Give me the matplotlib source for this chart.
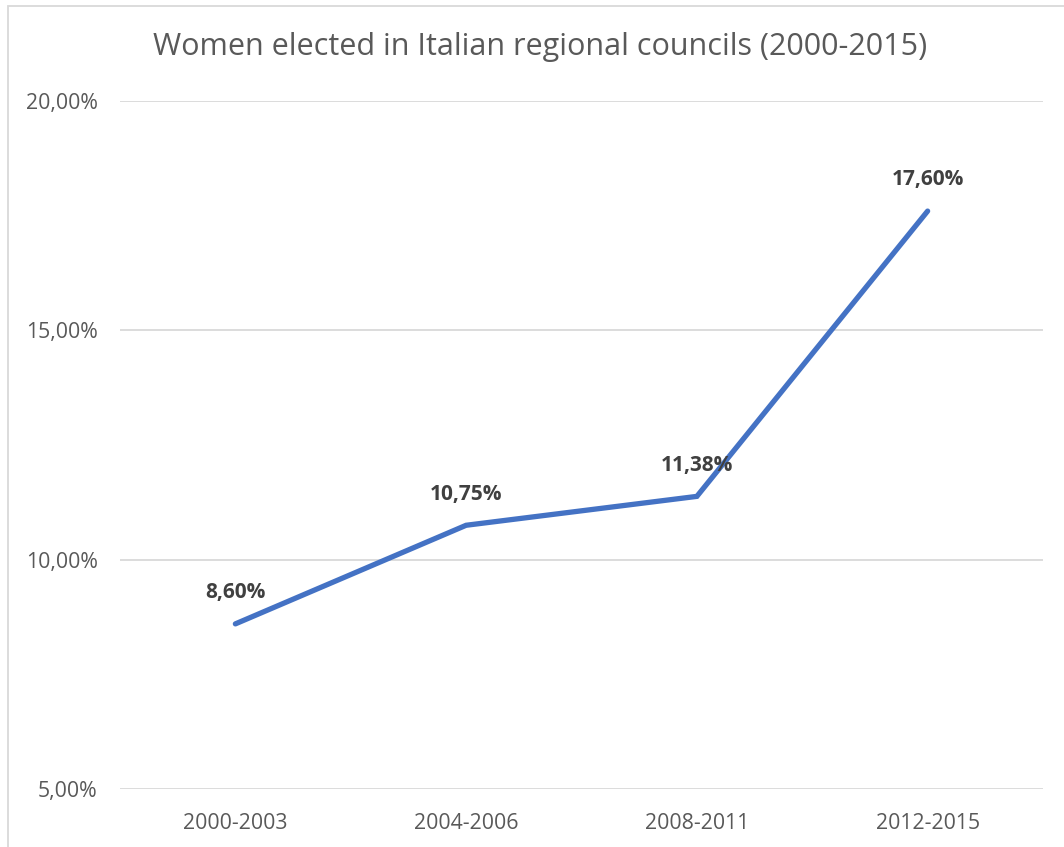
import matplotlib
matplotlib.use("Agg")
import matplotlib.pyplot as plt
from matplotlib.patches import Rectangle

periods = ["2000-2003", "2004-2006", "2008-2011", "2012-2015"]
women_share = [8.60, 10.75, 11.38, 17.60]
y_ticks = [5, 10, 15, 20]
title = "Women elected in Italian regional councils (2000-2015)"

W, H = 1064, 847
fig = plt.figure(figsize=(W / 100, H / 100), dpi=100)
fig.patch.set_facecolor("white")

# chart frame (only top and left edges fall inside the canvas)
fig.patches.append(Rectangle((8 / W, -0.1), 1.2, 1 - 6 / H + 0.1,
                             transform=fig.transFigure, fill=False,
                             edgecolor="#D9D9D9", linewidth=1.3))

ax = fig.add_axes([120 / W, 1 - 789 / H, (1043 - 120) / W, (789 - 101) / H])
ax.set_xlim(-0.5, len(periods) - 0.5)
ax.set_ylim(5, 20)

font = "Open Sans"
x = list(range(len(periods)))
ax.plot(x, women_share, color="#4472C4", linewidth=3.8,
        solid_capstyle="round", solid_joinstyle="miter", zorder=3)

for xi, v in zip(x, women_share):
    ax.annotate(f"{v:.2f}%".replace(".", ","), (xi, v), xytext=(0, 22.5),
                textcoords="offset points", ha="center", va="center",
                fontsize=15, fontweight="bold", color="#404040",
                family=font)

ax.set_yticks(y_ticks)
ax.set_yticklabels([f"{t:.2f}%".replace(".", ",") for t in y_ticks])
ax.set_xticks(x)
ax.set_xticklabels(periods)
ax.grid(axis="y", color="#D9D9D9", linewidth=1.3)
ax.set_axisbelow(True)
for s in ax.spines.values():
    s.set_visible(False)
ax.tick_params(axis="both", length=0, labelcolor="#595959", labelsize=15.3)
ax.tick_params(axis="y", pad=16)
ax.tick_params(axis="x", pad=17)
for lab in ax.get_xticklabels() + ax.get_yticklabels():
    lab.set_family(font)

fig.text(540 / W, 1 - 47 / H, title, ha="center", va="center",
         fontsize=22, color="#595959", family=font)

fig.savefig("out.png", dpi=100)
